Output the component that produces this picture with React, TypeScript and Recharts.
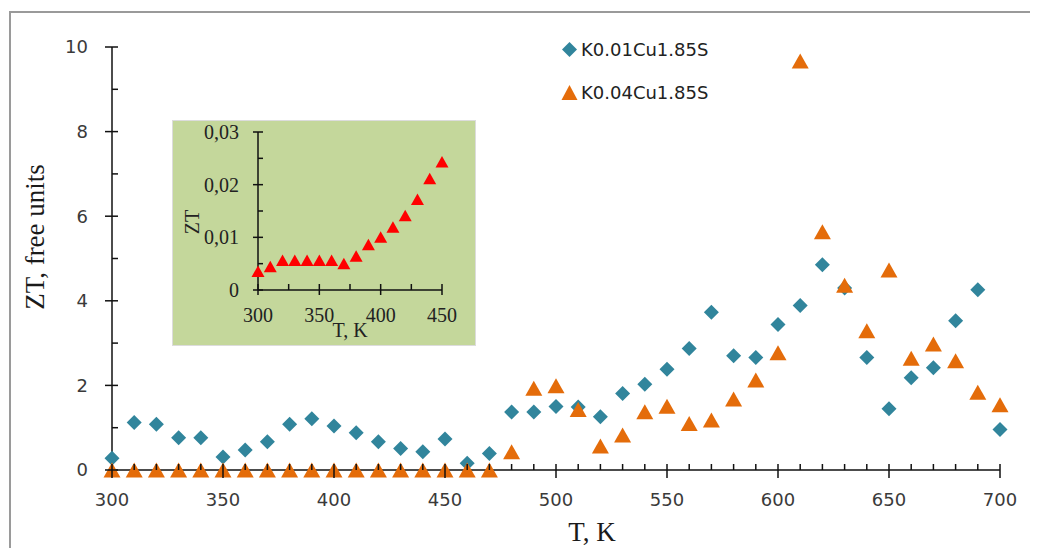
import React, { useLayoutEffect } from 'react';
import { ScatterChart, Scatter, XAxis, YAxis, Legend } from 'recharts';

// ---------- Data ----------
const TEMPS = [300, 310, 320, 330, 340, 350, 360, 370, 380, 390, 400, 410, 420, 430, 440, 450, 460, 470, 480, 490, 500, 510, 520, 530, 540, 550, 560, 570, 580, 590, 600, 610, 620, 630, 640, 650, 660, 670, 680, 690, 700];
const ZT_K001 = [0.28, 1.12, 1.08, 0.76, 0.76, 0.31, 0.47, 0.67, 1.08, 1.21, 1.04, 0.88, 0.67, 0.51, 0.43, 0.73, 0.16, 0.39, 1.37, 1.37, 1.5, 1.49, 1.26, 1.81, 2.03, 2.38, 2.87, 3.73, 2.7, 2.66, 3.44, 3.89, 4.85, 4.3, 2.66, 1.45, 2.18, 2.42, 3.53, 4.26, 0.96];
const ZT_K004 = [0, 0, 0, 0, 0, 0, 0, 0, 0, 0, 0, 0, 0, 0, 0, 0, 0, 0, 0.43, 1.93, 1.99, 1.43, 0.57, 0.83, 1.38, 1.51, 1.1, 1.18, 1.68, 2.13, 2.77, 9.67, 5.63, 4.37, 3.29, 4.73, 2.64, 2.98, 2.58, 1.84, 1.54];
const SERIES_NAMES = ['K0.01Cu1.85S', 'K0.04Cu1.85S'];

const INSET_TEMPS = [300, 310, 320, 330, 340, 350, 360, 370, 380, 390, 400, 410, 420, 430, 440, 450];
const INSET_ZT = [0.0035, 0.0044, 0.0056, 0.0056, 0.0056, 0.0056, 0.0056, 0.005, 0.0064, 0.0086, 0.01, 0.0119, 0.0141, 0.0172, 0.0211, 0.0243];

const MAIN_X_TICKS = [300, 310, 320, 330, 340, 350, 360, 370, 380, 390, 400, 410, 420, 430, 440, 450, 460, 470, 480, 490, 500, 510, 520, 530, 540, 550, 560, 570, 580, 590, 600, 610, 620, 630, 640, 650, 660, 670, 680, 690, 700];
const MAIN_Y_TICKS = [0, 1, 2, 3, 4, 5, 6, 7, 8, 9, 10];
const INSET_X_TICKS = [300, 325, 350, 375, 400, 425, 450];
const INSET_Y_TICKS = [0, 0.005, 0.01, 0.015, 0.02, 0.025, 0.03];

const dataA = TEMPS.map((t, i) => ({ t, zt: ZT_K001[i] }));
const dataB = TEMPS.map((t, i) => ({ t, zt: ZT_K004[i] }));
const insetData = INSET_TEMPS.map((t, i) => ({ t, zt: INSET_ZT[i] }));

// ---------- Styles ----------
const BLUE = '#31859c';
const ORANGE = '#e46c0a';
const RED = '#ff0000';
const AXIS = '#111';
const FRAME = '#9a9a9a';
const SANS = '"DejaVu Sans", Verdana, sans-serif';
const SERIF = '"Liberation Serif", "Times New Roman", serif';

const Diamond = (p: any) => {
  const { cx, cy, fill } = p;
  const h = 7.5;
  return <polygon points={`${cx},${cy - h} ${cx + h},${cy} ${cx},${cy + h} ${cx - h},${cy}`} fill={fill} />;
};
const Triangle = (p: any) => {
  const { cx, cy, fill } = p;
  return <polygon points={`${cx},${cy - 7.5} ${cx + 8.5},${cy + 7.5} ${cx - 8.5},${cy + 7.5}`} fill={fill} />;
};
const SmallTriangle = (p: any) => {
  const { cx, cy } = p;
  return <polygon points={`${cx},${cy - 6} ${cx + 6.5},${cy + 5.5} ${cx - 6.5},${cy + 5.5}`} fill={RED} />;
};

const MainXTick = (p: any) => {
  const { x, y, payload } = p;
  const v = payload.value;
  const major = v % 50 === 0;
  return (
    <g>
      <line x1={x} x2={x} y1={y - 6} y2={major ? y + 8 : y} stroke={AXIS} strokeWidth={1.5} />
      {major && (
        <text x={x} y={y + 30} dy="0.35em" textAnchor="middle" fontFamily={SANS} fontSize={18} fill="#3a3a3a">
          {v}
        </text>
      )}
    </g>
  );
};

const MainYTick = (p: any) => {
  const { x, y, payload } = p;
  const v = payload.value;
  const major = v % 2 === 0;
  return (
    <g>
      <line x1={major ? x - 7 : x} x2={x + 6} y1={y} y2={y} stroke={AXIS} strokeWidth={1.5} />
      {major && (
        <text x={x - 24} y={y} dy="0.35em" textAnchor="end" fontFamily={SANS} fontSize={18} fill="#3a3a3a">
          {v}
        </text>
      )}
    </g>
  );
};

const InsetXTick = (p: any) => {
  const { x, y, payload } = p;
  const v = payload.value;
  const major = v % 50 === 0;
  return (
    <g>
      <line x1={x} x2={x} y1={y - 6} y2={major ? y + 5 : y} stroke={AXIS} strokeWidth={1.5} />
      {major && (
        <text x={x} y={y + 25} dy="0.35em" textAnchor="middle" fontFamily={SERIF} fontSize={20} fill="#222">
          {v}
        </text>
      )}
    </g>
  );
};

const InsetYTick = (p: any) => {
  const { x, y, payload } = p;
  const v = payload.value;
  const major = Math.round(v * 1000) % 10 === 0;
  const label = v === 0 ? '0' : v.toFixed(2).replace('.', ',');
  return (
    <g>
      <line x1={major ? x - 5 : x} x2={x + 5} y1={y} y2={y} stroke={AXIS} strokeWidth={1.5} />
      {major && (
        <text x={x - 19} y={y} dy="0.35em" textAnchor="end" fontFamily={SERIF} fontSize={20} fill="#222">
          {label}
        </text>
      )}
    </g>
  );
};

const renderLegend = (props: any) => {
  const payload = props.payload || [];
  const find = (name: string) => payload.find((e: any) => e.value === name);
  const rows = SERIES_NAMES.map((n, i) => ({ name: n, color: (find(n) && find(n).color) || (i === 0 ? BLUE : ORANGE), kind: i }));
  return (
    <div style={{ fontFamily: SANS, fontSize: 18, color: '#222' }}>
      {rows.map((r) => (
        <div key={r.name} style={{ display: 'flex', alignItems: 'center', height: 43 }}>
          <svg width={17} height={17} style={{ display: 'block' }}>
            {r.kind === 0 ? (
              <polygon points="8.5,1 16,8.5 8.5,16 1,8.5" fill={r.color} />
            ) : (
              <polygon points="8.5,1 16.5,16 0.5,16" fill={r.color} />
            )}
          </svg>
          <span style={{ marginLeft: 3, whiteSpace: 'nowrap' }}>{r.name}</span>
        </div>
      ))}
    </div>
  );
};

export default function App() {
  useLayoutEffect(() => {
    document.documentElement.style.overflow = 'hidden';
    document.body.style.overflow = 'hidden';
  }, []);
  return (
    <div style={{ position: 'relative', width: 1030, height: 540, overflow: 'hidden', background: '#fff' }}>
      <div style={{ position: 'absolute', left: 1, top: 3, width: 1100, height: 2, background: FRAME }} />
      <div style={{ position: 'absolute', left: 1, top: 3, width: 2, height: 600, background: FRAME }} />
      <div style={{ position: 'absolute', left: 0, top: 0 }}>
        <ScatterChart width={1030} height={540} margin={{ top: 39, right: 38, bottom: 28, left: 44 }}>
          <XAxis
            type="number"
            dataKey="t"
            domain={[300, 700]}
            ticks={MAIN_X_TICKS}
            interval={0}
            tickSize={0}
            tickMargin={0}
            tickLine={false}
            axisLine={{ stroke: AXIS, strokeWidth: 1.5 }}
            tick={(p: any) => <MainXTick {...p} />}
            height={50}
            label={{
              content: () => (
                <text x={584} y={524} textAnchor="middle" dy="0.35em" fontFamily={SERIF} fontSize={27} fill="#1a1a1a">
                  T, K
                </text>
              ),
            }}
          />
          <YAxis
            type="number"
            dataKey="zt"
            domain={[0, 10]}
            ticks={MAIN_Y_TICKS}
            interval={0}
            tickSize={0}
            tickMargin={0}
            tickLine={false}
            axisLine={{ stroke: AXIS, strokeWidth: 1.5 }}
            tick={(p: any) => <MainYTick {...p} />}
            width={60}
            label={{
              content: () => (
                <text
                  x={27}
                  y={229}
                  textAnchor="middle"
                  dy="0.35em"
                  transform="rotate(-90 27 229)"
                  fontFamily={SERIF}
                  fontSize={27}
                  fill="#1a1a1a"
                >
                  ZT, free units
                </text>
              ),
            }}
          />
          <Legend
            layout="vertical"
            align="center"
            verticalAlign="middle"
            content={renderLegend}
            wrapperStyle={{ left: 553, top: 20, width: 260 }}
          />
          <Scatter name={SERIES_NAMES[0]} data={dataA} fill={BLUE} shape={Diamond} isAnimationActive={false} />
          <Scatter name={SERIES_NAMES[1]} data={dataB} fill={ORANGE} shape={Triangle} isAnimationActive={false} />
        </ScatterChart>
      </div>
      <div
        style={{
          position: 'absolute',
          left: 165,
          top: 113,
          width: 302,
          height: 224,
          background: '#c4d79b',
          outline: '1px solid #dcdcdc',
        }}
      >
        <ScatterChart width={302} height={224} margin={{ top: 11, right: 33, bottom: 15, left: 35 }}>
          <XAxis
            type="number"
            dataKey="t"
            domain={[300, 450]}
            ticks={INSET_X_TICKS}
            interval={0}
            tickSize={0}
            tickMargin={0}
            tickLine={false}
            axisLine={{ stroke: AXIS, strokeWidth: 1.5 }}
            tick={(p: any) => <InsetXTick {...p} />}
            height={40}
            label={{
              content: () => (
                <text x={177} y={209} textAnchor="middle" dy="0.35em" fontFamily={SERIF} fontSize={20} fill="#222">
                  T, K
                </text>
              ),
            }}
          />
          <YAxis
            type="number"
            dataKey="zt"
            domain={[0, 0.03]}
            ticks={INSET_Y_TICKS}
            interval={0}
            tickSize={0}
            tickMargin={0}
            tickLine={false}
            axisLine={{ stroke: AXIS, strokeWidth: 1.5 }}
            tick={(p: any) => <InsetYTick {...p} />}
            width={50}
            label={{
              content: () => (
                <text
                  x={19}
                  y={101}
                  textAnchor="middle"
                  dy="0.35em"
                  transform="rotate(-90 19 101)"
                  fontFamily={SERIF}
                  fontSize={20}
                  fill="#222"
                >
                  ZT
                </text>
              ),
            }}
          />
          <Scatter data={insetData} fill={RED} shape={SmallTriangle} isAnimationActive={false} />
        </ScatterChart>
      </div>
    </div>
  );
}
